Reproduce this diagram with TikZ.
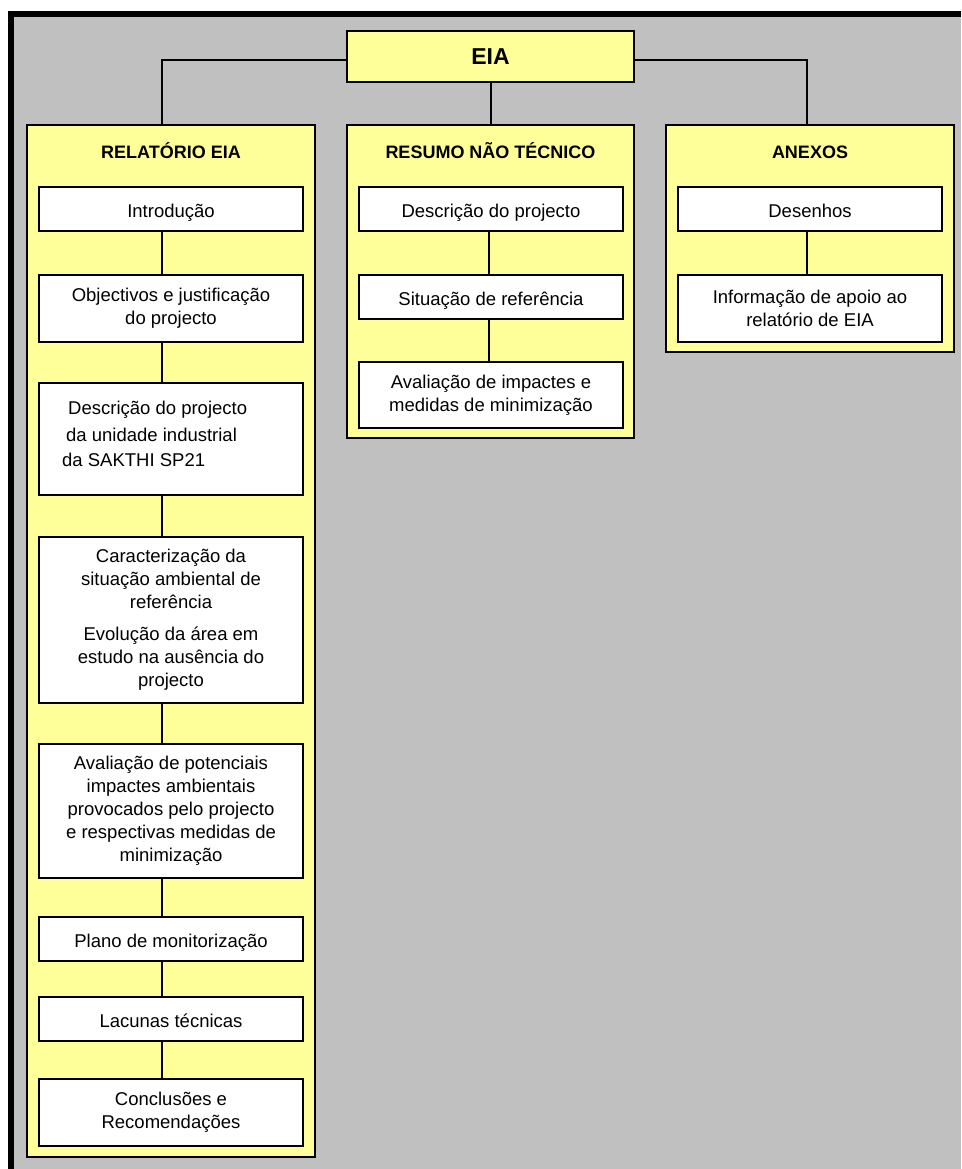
\documentclass[tikz,border=0pt]{standalone}
\usepackage{fontspec}
\setmainfont{Liberation Sans}
\definecolor{yl}{RGB}{255,255,153}
\definecolor{bgray}{RGB}{192,192,192}
\begin{document}
\begin{tikzpicture}[x=1pt,y=-1pt,
  outerbox/.style={draw, line width=2pt, fill=yl, rectangle, inner sep=0pt},
  wbox/.style={draw, line width=2pt, fill=white, rectangle, minimum width=264pt, inner sep=0pt, align=center, font=\fontsize{18.5}{23}\selectfont},
  oneline/.style={wbox, minimum height=44pt, text height=19pt, text depth=3pt},
  ttl/.style={inner sep=0pt, anchor=base, font=\bfseries\fontsize{18}{22}\selectfont},
  txt/.style={inner sep=0pt, font=\fontsize{18.5}{23}\selectfont},
  conn/.style={draw, line width=2pt}]
\useasboundingbox (0,0) rectangle (961,1169);
\fill[white] (0,0) rectangle (961,1169);
\fill[black] (8,11) rectangle (961,1169);
\fill[bgray] (14,17) rectangle (961,1169);

% top
\node[outerbox, minimum width=287pt, minimum height=51pt, text height=17pt, text depth=0pt, font=\bfseries\fontsize{23}{27}\selectfont] (eia) at (490.5,56.5) {EIA};

% columns
\node[outerbox, minimum width=288pt, minimum height=1032pt] (rel) at (171,641) {};
\node[outerbox, minimum width=287pt, minimum height=313pt] (res) at (490.5,281.5) {};
\node[outerbox, minimum width=288pt, minimum height=227pt] (anx) at (810,238.5) {};

\node[ttl] (reltitle) at (171,159) {RELATÓRIO EIA};
\node[ttl] (restitle) at (490.5,159) {RESUMO NÃO TÉCNICO};
\node[ttl] (anxtitle) at (810,159) {ANEXOS};

\coordinate (relx) at (162,0);
\coordinate (resx) at (489,0);
\coordinate (anxx) at (807,0);

% connectors from EIA
\draw[conn] ([yshift=-3.5pt]eia.west) -| (rel.north -| relx);
\draw[conn] ([yshift=-3.5pt]eia.east) -| (anx.north -| anxx);
\draw[conn] (eia.south) -- (res.north -| eia.south);

% Relatorio column
\node[oneline] (r1) at (171,209) {Introdução};
\node[wbox, minimum height=67pt] (r2) at (171,308.5) {Objectivos e justificação\\do projecto};
\node[wbox, minimum height=112pt] (r3) at (171,439) {};
\node[txt, anchor=west, align=left] (r3txt) at (62,434) {\hspace*{6pt}Descrição do projecto\\[4pt]\hspace*{4pt}da unidade industrial\\[2pt]da SAKTHI SP21};
\node[wbox, minimum height=166pt] (r4) at (171,620) {Caracterização da\\situação ambiental de\\referência\\[9pt]Evolução da área em\\estudo na ausência do\\projecto};
\node[wbox, minimum height=134pt] (r5) at (171,811) {Avaliação de potenciais\\impactes ambientais\\provocados pelo projecto\\e respectivas medidas de\\minimização};
\node[oneline] (r6) at (171,939) {Plano de monitorização};
\node[oneline] (r7) at (171,1019) {Lacunas técnicas};
\node[wbox, minimum height=67pt] (r8) at (171,1112.5) {Conclusões e\\Recomendações};

\foreach \a/\b in {r1/r2,r2/r3,r3/r4,r4/r5,r5/r6,r6/r7,r7/r8}
  \draw[conn] (\a.south -| relx) -- (\b.north -| relx);

% Resumo column
\node[oneline] (s1) at (491,209) {Descrição do projecto};
\node[oneline] (s2) at (491,297) {Situação de referência};
\node[wbox, minimum height=66pt] (s3) at (491,395) {Avaliação de impactes e\\medidas de minimização};
\foreach \a/\b in {s1/s2,s2/s3}
  \draw[conn] (\a.south -| resx) -- (\b.north -| resx);

% Anexos column
\node[oneline] (a1) at (810,209) {Desenhos};
\node[wbox, minimum height=67pt] (a2) at (810,308.5) {Informação de apoio ao\\relatório de EIA};
\draw[conn] (a1.south -| anxx) -- (a2.north -| anxx);
\end{tikzpicture}
\end{document}
